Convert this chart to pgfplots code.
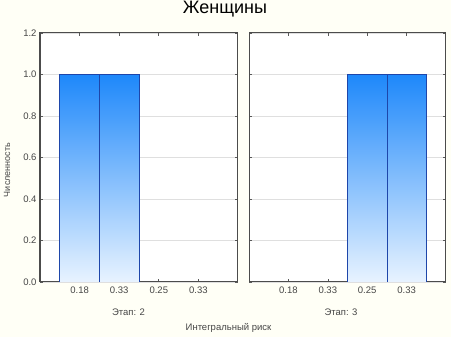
\documentclass[border=0pt]{standalone}
\usepackage{pgfplots}
\pgfplotsset{compat=1.18}
\usepackage{fontspec}
\setmainfont{Liberation Sans}
\definecolor{bgc}{RGB}{255,255,246}
\definecolor{bartop}{RGB}{30,136,250}
\definecolor{barbot}{RGB}{232,243,255}
\definecolor{barline}{RGB}{30,70,170}
\definecolor{txt}{RGB}{70,70,70}
\pgfplotsset{
  panel/.style={
    scale only axis, width=198pt, height=249pt,
    anchor=south west,
    xmin=-1, xmax=4, ymin=0, ymax=1.2,
    xtick={0,1,2,3}, xticklabels={0.18,0.33,0.25,0.33},
    ytick={0,0.2,...,1.2},
    tick align=inside, major tick length=3pt,
    tick style={gray!70!black, line width=0.6pt},
    ymajorgrids, grid style={gray!25, line width=0.5pt},
    axis line style={gray!60!black, line width=1pt},
    axis background/.style={fill=white},
    tick label style={font=\fontsize{9.5}{10}\selectfont, text=txt},
    /pgf/number format/assume math mode=true,
    yticklabel style={/pgf/number format/.cd, fixed, fixed zerofill, precision=1},
    xtick pos=both, ytick pos=both,
    xticklabel pos=bottom,
    xticklabel style={yshift=-1pt},
  },
  bars/.style={ybar, bar width=1, draw=barline, line width=0.6pt,
    top color=bartop, bottom color=barbot, bar shift=0pt},
}
\begin{document}
\begin{tikzpicture}[x=1pt,y=1pt]
\fill[bgc] (0,0) rectangle (451,337);
\useasboundingbox (0,0) rectangle (451,337);
\begin{axis}[panel, at={(40pt,55pt)}, yticklabel pos=left]
\addplot[bars] coordinates {(0,1) (1,1)};
\end{axis}
\begin{axis}[panel, at={(249pt,55pt)}, width=197pt, yticklabels={}]
\addplot[bars] coordinates {(2,1) (3,1)};
\end{axis}
\node[font=\fontsize{18}{20}\selectfont] at (225,328) {Женщины};
\node[font=\fontsize{9.5}{10}\selectfont, text=txt] at (128.5,25) {Этап: 2};
\node[font=\fontsize{9.5}{10}\selectfont, text=txt] at (341,25) {Этап: 3};
\node[font=\fontsize{9.5}{10}\selectfont, text=txt] at (228.5,9) {Интегральный риск};
\node[font=\fontsize{9}{10}\selectfont, text=txt, rotate=90] at (7,167) {Численность};
\end{tikzpicture}
\end{document}
